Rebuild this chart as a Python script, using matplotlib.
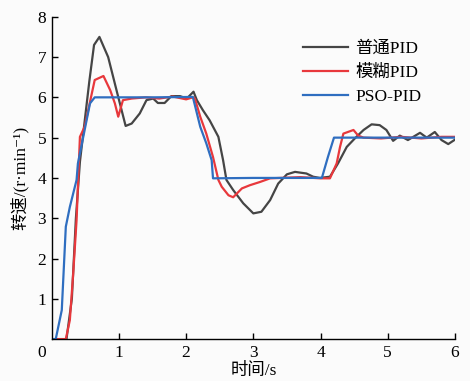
import matplotlib
matplotlib.use("Agg")
import matplotlib.pyplot as plt

plt.rcParams['font.family'] = ['Liberation Serif', 'Noto Sans CJK SC', 'DejaVu Serif']

# 普通PID
t_pid = [0, 0.22, 0.30, 0.36, 0.42, 0.49, 0.56, 0.63, 0.71, 0.84, 0.97, 1.10, 1.19, 1.31, 1.41,
         1.51, 1.58, 1.68, 1.78, 1.91, 2.01, 2.11, 2.16, 2.25, 2.35, 2.48, 2.55, 2.60, 2.70,
         2.85, 3.00, 3.12, 3.25, 3.37, 3.50, 3.62, 3.79, 3.89, 3.99, 4.14, 4.26, 4.39, 4.51,
         4.64, 4.76, 4.88, 4.98, 5.08, 5.18, 5.30, 5.48, 5.58, 5.70, 5.80, 5.90, 6.00]
v_pid = [0, 0, 1.0, 3.0, 4.4, 5.4, 6.4, 7.3, 7.5, 7.0, 6.14, 5.29, 5.35, 5.6, 5.93,
         5.97, 5.86, 5.86, 6.03, 6.03, 5.97, 6.14, 5.93, 5.68, 5.43, 5.02, 4.44, 3.95, 3.70,
         3.37, 3.12, 3.16, 3.45, 3.86, 4.09, 4.15, 4.11, 4.03, 4.0, 4.03, 4.36, 4.77, 4.98,
         5.19, 5.33, 5.31, 5.19, 4.92, 5.05, 4.94, 5.12, 5.0, 5.14, 4.94, 4.84, 4.95]

# 模糊PID
t_fuzzy = [0, 0.21, 0.27, 0.32, 0.37, 0.42, 0.49, 0.64, 0.77, 0.87, 0.94, 0.99, 1.06, 1.19,
           1.4, 1.6, 1.8, 2.0, 2.1, 2.13, 2.21, 2.30, 2.40, 2.48, 2.53, 2.63, 2.70, 2.83,
           2.95, 3.10, 3.25, 3.4, 3.7, 4.0, 4.14, 4.24, 4.29, 4.34, 4.49, 4.56, 4.64,
           4.9, 5.2, 5.5, 5.8, 6.0]
v_fuzzy = [0, 0, 0.47, 1.63, 2.95, 5.02, 5.27, 6.43, 6.53, 6.18, 5.85, 5.52, 5.93, 5.97,
           6.0, 5.97, 6.02, 5.95, 6.0, 5.97, 5.52, 5.10, 4.52, 3.95, 3.78, 3.57, 3.52, 3.74,
           3.82, 3.90, 3.99, 4.0, 4.02, 3.99, 3.99, 4.36, 4.77, 5.10, 5.19, 5.05, 5.0,
           4.98, 5.02, 4.98, 5.02, 5.02]

# PSO-PID
t_pso = [0, 0.06, 0.15, 0.21, 0.27, 0.37, 0.39, 0.57, 0.64, 1.0, 1.5, 2.10, 2.21, 2.30,
         2.38, 2.40, 3.0, 4.02, 4.11, 4.20, 5.0, 6.0]
v_pso = [0, 0, 0.72, 2.79, 3.28, 3.95, 4.36, 5.85, 6.0, 6.0, 6.0, 6.01, 5.27, 4.86,
         4.44, 3.99, 4.0, 4.0, 4.52, 5.0, 5.0, 5.0]

labels = ['普通PID', '模糊PID', 'PSO-PID']
colors = ['#454545', '#e8383c', '#2f6ec0']

fig = plt.figure(figsize=(4.7, 3.81), dpi=100, facecolor='#fbfbfb')
ax = fig.add_axes([0.110, 0.110, 0.858, 0.846])
ax.set_facecolor('#fbfbfb')

ax.plot(t_pid, v_pid, color=colors[0], lw=1.6, label=labels[0])
ax.plot(t_fuzzy, v_fuzzy, color=colors[1], lw=1.6, label=labels[1])
ax.plot(t_pso, v_pso, color=colors[2], lw=1.6, label=labels[2])

ax.set_xlim(0, 6)
ax.set_ylim(0, 8)
ax.set_xticks([1, 2, 3, 4, 5, 6])
ax.set_yticks([1, 2, 3, 4, 5, 6, 7, 8])
ax.tick_params(direction='in', length=4, width=1, labelsize=12.5, pad=4)
for s in ['top', 'right']:
    ax.spines[s].set_visible(False)
for s in ['left', 'bottom']:
    ax.spines[s].set_linewidth(1.0)
ax.text(-0.08, -0.15, '0', transform=ax.transData, ha='right', va='top', fontsize=12.5)

ax.set_xlabel('时间/s', fontsize=12.5, labelpad=2)
ax.set_ylabel('转速/(r·min⁻¹)', fontsize=12.5, labelpad=6)

ax.legend(loc='upper right', bbox_to_anchor=(0.955, 0.975), frameon=False, fontsize=12.5,
          handlelength=2.6, handletextpad=0.4, labelspacing=0.45)

fig.savefig('out.png', dpi=100, facecolor=fig.get_facecolor())
